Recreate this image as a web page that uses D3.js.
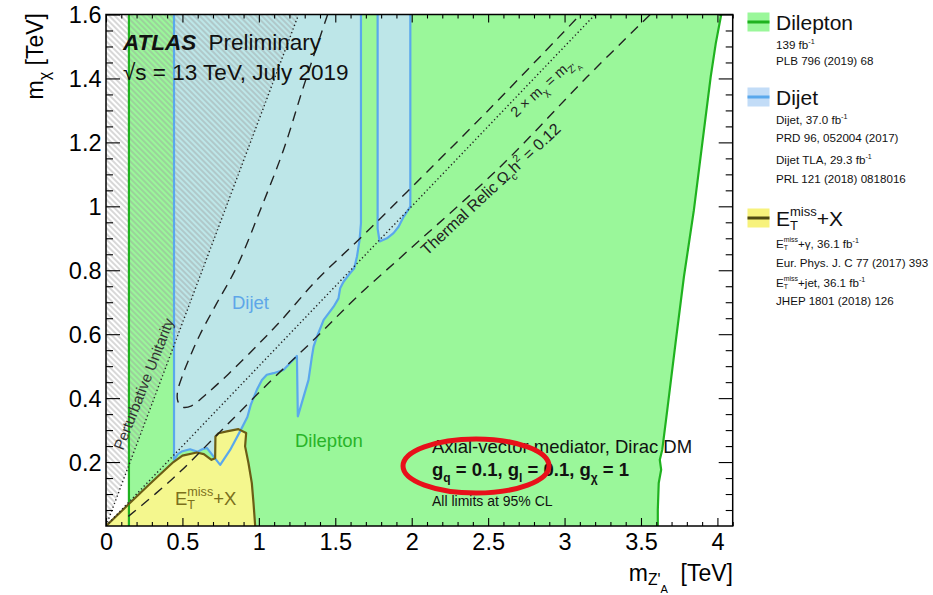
<!DOCTYPE html>
<html>
<head>
<meta charset="utf-8">
<script src="https://cdn.jsdelivr.net/npm/d3@7"></script>
<style>
  body { margin: 0; background: #fff; }
  svg { font-family: "Liberation Sans", Arial, Helvetica, sans-serif; }
  text { white-space: pre; }
</style>
</head>
<body>
<svg id="chart" width="933" height="595"></svg>
<script>
// tick values and labels
const xTickValues = [0, 0.5, 1, 1.5, 2, 2.5, 3, 3.5, 4];
const xTickLabels = ["0", "0.5", "1", "1.5", "2", "2.5", "3", "3.5", "4"];
const yTickValues = [0.2, 0.4, 0.6, 0.8, 1.0, 1.2, 1.4, 1.6];
const yTickLabels = ["0.2", "0.4", "0.6", "0.8", "1", "1.2", "1.4", "1.6"];

// contours, [mZ'A, mChi] in TeV
const dileptonLowEdge = [[0.15, 0], [0.15, 1.6]];
const dileptonHighEdge = [[3.61, 0], [3.61, 0.05], [3.616, 0.134], [3.632, 0.176], [3.623, 0.207],
  [3.639, 0.238], [3.672, 0.363], [3.726, 0.572], [3.781, 0.78], [3.846, 0.988], [3.901, 1.197],
  [3.956, 1.405], [3.989, 1.509], [4.025, 1.6]];
const dijetContour = [[0.445, 1.6], [0.445, 0.207], [0.47, 0.225], [0.5, 0.234], [0.55, 0.24],
  [0.6, 0.232], [0.63, 0.24], [0.66, 0.244], [0.703, 0.218], [0.747, 0.191], [0.812, 0.238],
  [0.877, 0.296], [0.925, 0.341], [0.947, 0.379], [0.987, 0.426], [1.02, 0.457], [1.052, 0.473],
  [1.096, 0.478], [1.161, 0.488], [1.249, 0.532], [1.255, 0.343], [1.325, 0.457], [1.347, 0.53],
  [1.358, 0.561], [1.38, 0.592], [1.424, 0.645], [1.489, 0.686], [1.521, 0.712], [1.532, 0.744],
  [1.554, 0.764], [1.587, 0.785], [1.624, 0.806], [1.642, 0.843], [1.659, 0.895], [1.668, 0.947],
  [1.668, 1.6]];
const dijetTlaContour = [[1.777, 1.6], [1.777, 0.93], [1.79, 0.89], [1.838, 0.9], [1.881, 0.916],
  [1.914, 0.936], [1.947, 0.967], [1.991, 0.999], [1.991, 1.6]];
const emissContour = [[0, 0], [0.146, 0.067], [0.288, 0.132], [0.441, 0.2], [0.5, 0.22],
  [0.594, 0.23], [0.64, 0.225], [0.69, 0.207], [0.714, 0.212], [0.716, 0.28], [0.736, 0.29],
  [0.79, 0.296], [0.866, 0.303], [0.917, 0.291], [0.91, 0.249], [0.932, 0.197], [0.954, 0.134],
  [0.965, 0.072], [0.976, 0]];
const unitarityLine = [[0, 0], [1.26, 1.6]];
const halfMassLine = [[0, 0], [3.2, 1.6]];
const relicLower = [[0.146, 0.03], [0.441, 0.15], [0.747, 0.295], [1.074, 0.452], [1.38, 0.592],
  [1.642, 0.717], [1.969, 0.858], [2.58, 1.124], [3.148, 1.405], [3.56, 1.6]];
const relicUpper = [[1.45, 1.6], [1.292, 1.374], [1.161, 1.176], [1.009, 0.988], [0.856, 0.811],
  [0.725, 0.697], [0.616, 0.6], [0.55, 0.53], [0.5, 0.47], [0.468, 0.42], [0.47, 0.39],
  [0.5, 0.372], [0.56, 0.376], [0.65, 0.41], [0.8, 0.475], [1.0, 0.57], [1.14, 0.64],
  [1.38, 0.77], [1.663, 0.9], [1.969, 1.045], [2.5, 1.3], [3.104, 1.6]];

// legend text
const legendTitles = ["Dilepton", "Dijet", "Emiss+X"];
const legendDilepton = ["139 fb-1", "PLB 796 (2019) 68"];
const legendDijet = ["Dijet, 37.0 fb-1", "PRD 96, 052004 (2017)", "Dijet TLA, 29.3 fb-1", "PRL 121 (2018) 0818016"];
const legendEmiss = ["Emiss+\u03b3, 36.1 fb-1", "Eur. Phys. J. C 77 (2017) 393", "Emiss+jet, 36.1 fb-1", "JHEP 1801 (2018) 126"];

const greenFill = "#9af79a", greenLine = "#1fb21f";
const blueFill = "#bde6e8", blueLine = "#5aa8ec";
const yellowFill = "#f4f78e", yellowLine = "#6b5d15";

const plot = { left: 106, right: 732.7, top: 14.5, bottom: 526 };
const x = d3.scaleLinear().domain([0, 4.1]).range([plot.left, plot.right]);
const y = d3.scaleLinear().domain([0, 1.6]).range([plot.bottom, plot.top]);

const svg = d3.select("#chart");
const defs = svg.append("defs");
defs.append("clipPath").attr("id", "plotClip").append("rect")
  .attr("x", plot.left).attr("y", plot.top)
  .attr("width", plot.right - plot.left).attr("height", plot.bottom - plot.top);
const hatch = defs.append("pattern").attr("id", "hatch")
  .attr("patternUnits", "userSpaceOnUse").attr("width", 4).attr("height", 4)
  .attr("patternTransform", "rotate(45)");
hatch.append("line").attr("x1", 0).attr("x2", 4).attr("y1", 2).attr("y2", 2)
  .attr("stroke", "#9a9a9a").attr("stroke-width", 0.8);

const line = d3.line().x(d => x(d[0])).y(d => y(d[1]));
const smooth = d3.line().curve(d3.curveCatmullRom.alpha(0.5)).x(d => x(d[0])).y(d => y(d[1]));

// small helper for sub/superscripts
function rich(parent, px, py, size, parts) {
  const t = parent.append("text").attr("x", px).attr("y", py).attr("font-size", size);
  let cur = 0, lastW = 0;
  parts.forEach(p => {
    const k = p.k || 1;
    const sh = (p.sh || 0) * size;
    const ts = t.append("tspan").attr("font-size", size * k).attr("dy", sh - cur).text(p.t);
    if (p.w) ts.attr("font-weight", p.w);
    if (p.back) ts.attr("dx", -lastW);
    cur = sh;
    lastW = ts.node().getComputedTextLength();
  });
  return t;
}

function parseParts(str, k) {
  const out = [];
  str.split(/(Emiss|fb-1)/).forEach(tok => {
    if (!tok) return;
    if (tok === "Emiss") {
      out.push({ t: "E" }, { t: "T", k: k, sh: 0.2 }, { t: "miss", k: k, sh: -0.5, back: true });
    } else if (tok === "fb-1") {
      out.push({ t: "fb" }, { t: "-1", k: 0.62, sh: -0.42 });
    } else {
      out.push({ t: tok });
    }
  });
  return out;
}

const area = svg.append("g").attr("clip-path", "url(#plotClip)");

// fills
const greenPoly = dileptonLowEdge.concat(dileptonHighEdge.slice().reverse());
area.append("path").attr("d", line(greenPoly) + "Z").attr("fill", greenFill);
[dijetContour, dijetTlaContour].forEach(c => {
  area.append("path").attr("d", line(c) + "Z").attr("fill", blueFill);
});
area.append("path").attr("d", line(emissContour) + "Z").attr("fill", yellowFill);
area.append("path")
  .attr("d", line([unitarityLine[0], unitarityLine[1], [0, 1.6]]) + "Z")
  .attr("fill", "url(#hatch)");

// contour lines
[dileptonLowEdge, dileptonHighEdge].forEach(c => {
  area.append("path").attr("d", line(c)).attr("fill", "none")
    .attr("stroke", greenLine).attr("stroke-width", 2.2);
});
[dijetContour, dijetTlaContour].forEach(c => {
  area.append("path").attr("d", line(c)).attr("fill", "none")
    .attr("stroke", blueLine).attr("stroke-width", 2.2).attr("stroke-linejoin", "round");
});
area.append("path").attr("d", line(emissContour)).attr("fill", "none")
  .attr("stroke", yellowLine).attr("stroke-width", 2.2).attr("stroke-linejoin", "round");

[unitarityLine, halfMassLine].forEach(c => {
  area.append("path").attr("d", line(c)).attr("fill", "none")
    .attr("stroke", "#222").attr("stroke-width", 1.4).attr("stroke-dasharray", "1.3,2.6");
});
[relicLower, relicUpper].forEach(c => {
  area.append("path").attr("d", smooth(c)).attr("fill", "none")
    .attr("stroke", "#222").attr("stroke-width", 1.4).attr("stroke-dasharray", "10,7");
});

// labels in the plot
const labels = svg.append("g").attr("fill", "#111");
const atlas = labels.append("text").attr("x", 123).attr("y", 50).attr("font-size", 22.5);
atlas.append("tspan").attr("font-weight", "bold").attr("font-style", "italic").text("ATLAS");
atlas.append("tspan").attr("dx", 6).text(" Preliminary");
labels.append("text").attr("x", 123).attr("y", 80).attr("font-size", 22.5)
  .text("\u221as = 13 TeV, July 2019");

labels.append("text").attr("x", 232).attr("y", 309).attr("font-size", 18.5)
  .attr("fill", "#5ea6e8").text("Dijet");
labels.append("text").attr("x", 295).attr("y", 447).attr("font-size", 18.5)
  .attr("fill", "#28b428").text("Dilepton");
rich(labels, 175, 505, 18.5, parseParts("Emiss+X", 0.68)).attr("fill", "#7b701c");

labels.append("text").attr("x", 432).attr("y", 453).attr("font-size", 18.5)
  .text("Axial-vector mediator, Dirac DM");
rich(labels, 432, 476, 18.5, [
  { t: "g", w: "bold" }, { t: "q", k: 0.65, sh: 0.3, w: "bold" },
  { t: " = 0.1, g", w: "bold" }, { t: "l", k: 0.65, sh: 0.3, w: "bold" },
  { t: " = 0.1, g", w: "bold" }, { t: "\u03c7", k: 0.65, sh: 0.3, w: "bold" },
  { t: " = 1", w: "bold" }
]);
labels.append("text").attr("x", 432).attr("y", 506).attr("font-size", 14)
  .text("All limits at 95% CL");

labels.append("text").attr("transform", "translate(123,451) rotate(-68.5)")
  .attr("font-size", 15).attr("fill", "#333").text("Perturbative Unitarity");
rich(labels, 0, 0, 14.5, [
  { t: "2 \u00d7 m" }, { t: "\u03c7", k: 0.7, sh: 0.3 }, { t: " = m" },
  { t: "Z'", k: 0.7, sh: 0.3 }, { t: "A", k: 0.5, sh: 0.55 }
]).attr("transform", "translate(516,118) rotate(-42)").attr("fill", "#222");
rich(labels, 0, 0, 16, [
  { t: "Thermal Relic \u03a9" }, { t: "c", k: 0.65, sh: 0.3 }, { t: "h" },
  { t: "2", k: 0.65, sh: -0.45 }, { t: " = 0.12" }
]).attr("transform", "translate(427,256) rotate(-43)").attr("fill", "#222");

// red ellipse
svg.append("ellipse").attr("cx", 476).attr("cy", 466).attr("rx", 73).attr("ry", 27)
  .attr("fill", "none").attr("stroke", "#e8101a").attr("stroke-width", 5);

// frame and axes
svg.append("rect").attr("x", plot.left).attr("y", plot.top)
  .attr("width", plot.right - plot.left).attr("height", plot.bottom - plot.top)
  .attr("fill", "none").attr("stroke", "#000").attr("stroke-width", 1.5);

const xMinor = d3.range(0, 4.101, 0.1).filter(v => Math.abs(v * 2 - Math.round(v * 2)) > 1e-6);
const yMinor = d3.range(0, 1.601, 0.05).filter(v => Math.abs(v * 5 - Math.round(v * 5)) > 1e-6);

function addAxis(axis, tx, ty, showLabels) {
  const g = svg.append("g").attr("transform", `translate(${tx},${ty})`).call(axis);
  g.select(".domain").remove();
  g.selectAll("line").attr("stroke", "#000").attr("stroke-width", 1.1);
  if (!showLabels) g.selectAll("text").remove();
  return g;
}

const gx = addAxis(d3.axisBottom(x).tickValues(xTickValues).tickFormat((d, i) => xTickLabels[i])
  .tickSizeInner(-8).tickSizeOuter(0).tickPadding(7), 0, plot.bottom, true);
gx.attr("font-size", 23.5).attr("font-family", null);
gx.selectAll("text").attr("fill", "#000");
addAxis(d3.axisBottom(x).tickValues(xMinor).tickSizeInner(-4).tickSizeOuter(0), 0, plot.bottom, false);
addAxis(d3.axisTop(x).tickValues(xTickValues).tickSizeInner(-8).tickSizeOuter(0), 0, plot.top, false);
addAxis(d3.axisTop(x).tickValues(xMinor).tickSizeInner(-4).tickSizeOuter(0), 0, plot.top, false);

const gy = addAxis(d3.axisLeft(y).tickValues(yTickValues).tickFormat((d, i) => yTickLabels[i])
  .tickSizeInner(-14).tickSizeOuter(0).tickPadding(4.5), plot.left, 0, true);
gy.attr("font-size", 23.5).attr("font-family", null);
gy.selectAll("text").attr("fill", "#000").attr("dy", "0.36em");
addAxis(d3.axisLeft(y).tickValues(yMinor).tickSizeInner(-7).tickSizeOuter(0), plot.left, 0, false);
addAxis(d3.axisRight(y).tickValues(yTickValues).tickSizeInner(-14).tickSizeOuter(0), plot.right, 0, false);
addAxis(d3.axisRight(y).tickValues(yMinor).tickSizeInner(-7).tickSizeOuter(0), plot.right, 0, false);

// axis titles
rich(svg, 0, 0, 23, [{ t: "m" }, { t: "\u03c7", k: 0.7, sh: 0.3 }, { t: " [TeV]" }])
  .attr("transform", "translate(43,13) rotate(-90)").attr("text-anchor", "end");
rich(svg, 733, 581, 23, [
  { t: "m" }, { t: "Z'", k: 0.68, sh: 0.18 }, { t: "A", k: 0.48, sh: 0.5 }, { t: "  [TeV]" }
]).attr("text-anchor", "end");

// legend
const legend = svg.append("g").attr("fill", "#111");
const legendBlocks = [
  { title: legendTitles[0], lines: legendDilepton, fill: greenFill, stroke: greenLine,
    y0: 30, ys: [48.5, 65] },
  { title: legendTitles[1], lines: legendDijet, fill: "#c2dcf7", stroke: blueLine,
    y0: 105, ys: [124, 141.7, 164.3, 182.7] },
  { title: legendTitles[2], lines: legendEmiss, fill: "#f7f27c", stroke: "#4f4a12",
    y0: 226, ys: [248, 266.7, 286.7, 305] }
];
legendBlocks.forEach(b => {
  legend.append("rect").attr("x", 747.5).attr("y", b.y0 - 17.5).attr("width", 22).attr("height", 19)
    .attr("fill", b.fill);
  legend.append("line").attr("x1", 747.5).attr("x2", 769.5)
    .attr("y1", b.y0 - 8).attr("y2", b.y0 - 8).attr("stroke", b.stroke).attr("stroke-width", 3);
  rich(legend, 776, b.y0, 21, parseParts(b.title, 0.62));
  b.lines.forEach((s, i) => rich(legend, 776, b.ys[i], 11.6, parseParts(s, 0.6)));
});
</script>
</body>
</html>
